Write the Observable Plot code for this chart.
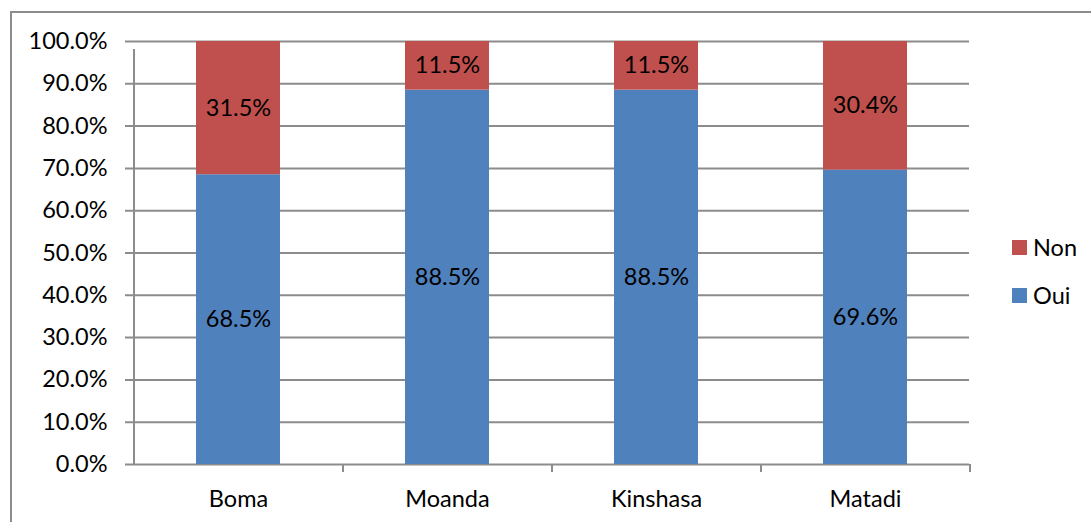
<!DOCTYPE html>
<html>
<head>
<meta charset="utf-8">
<script src="https://cdn.jsdelivr.net/npm/d3@7"></script>
<script src="https://cdn.jsdelivr.net/npm/@observablehq/plot@0.6"></script>
<style>
  html, body { margin: 0; padding: 0; background: #fff; overflow: hidden; }
  #wrap { position: relative; width: 1091px; height: 522px; font-family: Lato, "Open Sans", sans-serif; }
  #frame { position: absolute; left: 10px; top: 11px; width: 1090px; height: 600px; border: 2px solid #8c8c8c; box-sizing: border-box; border-right: none; border-bottom: none; }
  #legend { position: absolute; left: 1012px; top: 234px; font-size: 23.5px; color: #000; }
  .item { display: flex; align-items: center; height: 26px; margin-bottom: 22px; }
  .sw { width: 15px; height: 15px; margin-right: 6px; }
</style>
</head>
<body>
<div id="wrap">
  <div id="frame"></div>
  <div id="chart"></div>
  <div id="legend"></div>
</div>
<script>
const categories = ["Boma", "Moanda", "Kinshasa", "Matadi"];
const oui = [68.5, 88.5, 88.5, 69.6];
const non = [31.5, 11.5, 11.5, 30.4];
const seriesNames = ["Oui", "Non"];
const seriesColors = ["#4F81BD", "#C0504D"];
const yTicks = [0, 10, 20, 30, 40, 50, 60, 70, 80, 90, 100];

const rows = [];
categories.forEach((c, i) => {
  rows.push({cat: c, series: "Oui", value: oui[i]});
  rows.push({cat: c, series: "Non", value: non[i]});
});

const W = 1091, H = 522, ML = 133, MR = 122, MT = 41, MB = 58;
const step = (W - ML - MR) / categories.length;
const gray = "#8c8c8c";
const font = "Lato, 'Open Sans', sans-serif";
const fs = 23.5;

const chart = Plot.plot({
  width: W, height: H,
  marginLeft: ML, marginRight: MR, marginTop: MT, marginBottom: MB,
  style: {fontFamily: font, fontSize: fs + "px", color: "#000", background: "transparent"},
  x: {domain: categories, paddingInner: 0.6, paddingOuter: 0.3, label: null},
  y: {domain: [0, 100], label: null},
  color: {domain: seriesNames, range: seriesColors},
  marks: [
    Plot.ruleY(yTicks, {y: d => d, stroke: gray, strokeWidth: 2, strokeOpacity: 1, insetLeft: -8}),
    Plot.barY(rows, Plot.stackY({x: "cat", y: "value", fill: "series", order: seriesNames})),
    Plot.text(rows, Plot.stackY({x: "cat", y: "value", z: "series", order: seriesNames, text: d => d.value.toFixed(1) + "%", fill: "#000", fontSize: fs})),
    // category boundary tick marks and vertical axis line
    Plot.ruleX(categories, {x: d => d, dx: -step / 2, y1: 0, y2: d => d === categories[0] ? 100 : 0, insetBottom: -8, stroke: gray, strokeWidth: 2}),
    Plot.ruleX([categories[categories.length - 1]], {x: d => d, dx: step / 2, y1: 0, y2: 0, insetBottom: -8, stroke: gray, strokeWidth: 2}),
    Plot.axisY({ticks: yTicks, tickSize: 0, tickPadding: 26, tickFormat: d => d.toFixed(1) + "%", fontSize: fs}),
    Plot.axisX({tickSize: 0, tickPadding: 26, fontSize: fs})
  ]
});
document.getElementById("chart").appendChild(chart);

const legend = document.getElementById("legend");
[["Non", seriesColors[1]], ["Oui", seriesColors[0]]].forEach(([name, col]) => {
  const it = document.createElement("div");
  it.className = "item";
  it.innerHTML = `<span class="sw" style="background:${col}"></span><span>${name}</span>`;
  legend.appendChild(it);
});
</script>
</body>
</html>
